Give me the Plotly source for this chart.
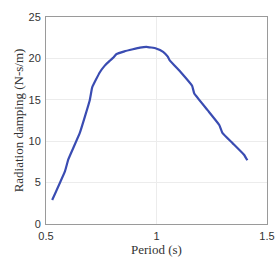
import plotly.graph_objects as go

period = [0.528, 0.586, 0.601, 0.653, 0.698, 0.709, 0.743, 0.765, 0.788, 0.805, 0.818,
          0.855, 0.893, 0.925, 0.954, 0.998, 1.03, 1.051, 1.059, 1.111, 1.161, 1.171,
          1.231, 1.284, 1.299, 1.344, 1.396, 1.411]
damping = [2.9, 6.4, 7.8, 11.0, 14.95, 16.5, 18.3, 19.1, 19.7, 20.1, 20.5,
           20.85, 21.1, 21.3, 21.4, 21.2, 20.8, 20.2, 19.8, 18.3, 16.7, 15.75,
           13.75, 11.96, 10.97, 9.77, 8.37, 7.7]

x_ticks = [0.5, 1, 1.5]
y_ticks = [0, 5, 10, 15, 20, 25]

fig = go.Figure(go.Scatter(x=period, y=damping, mode="lines",
                           line=dict(color="rgb(58,76,178)", width=2.2, shape="spline", smoothing=0.3)))

title_font = dict(family="Liberation Serif, Times New Roman, serif", size=13, color="#333")
axis_common = dict(showline=True, linecolor="#9a9a9a", linewidth=1, mirror=True,
                   showgrid=True, gridcolor="#ececec", gridwidth=1, zeroline=False,
                   automargin=False, ticks="outside", tickcolor="rgba(0,0,0,0)",
                   tickfont=dict(family="Liberation Sans, Arial", size=11, color="#333"))

fig.update_layout(
    width=278, height=278,
    margin=dict(l=46, r=11, t=17, b=54),
    paper_bgcolor="white", plot_bgcolor="white",
    showlegend=False,
    xaxis=dict(range=[0.5, 1.5], tickvals=x_ticks, ticktext=[str(v) for v in x_ticks],
               ticklen=2,
               title=dict(text="Period (s)", font=title_font, standoff=1),
               **axis_common),
    yaxis=dict(range=[0, 25], tickvals=y_ticks, ticklen=2,
               title=dict(text="Radiation damping (N-s/m)", font=title_font, standoff=1),
               **axis_common),
)

fig.write_html("out.html", config={"displayModeBar": False},
               post_script="document.body.style.margin='0';document.body.style.overflow='hidden';")
